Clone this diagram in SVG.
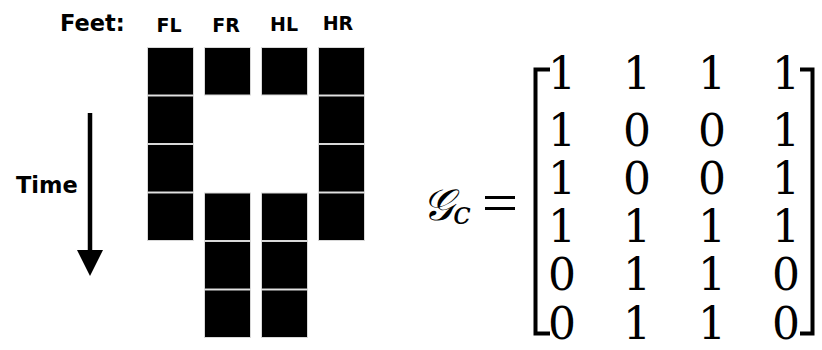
<svg xmlns="http://www.w3.org/2000/svg" width="822" height="350" viewBox="0 0 822 350">
<style>
.lbl{font-family:"DejaVu Sans",Verdana,sans-serif;font-weight:bold;fill:#000}
.cell{fill:#000;stroke:#d8d8d8;stroke-width:1}
.num{font-family:"DejaVu Serif","Liberation Serif",serif;font-size:44px;fill:#000;text-anchor:middle}
.br{fill:none;stroke:#000;stroke-width:4;stroke-linecap:butt}
</style>
<defs>
<marker id="ah" markerWidth="26" markerHeight="26" refX="0" refY="13" orient="auto" markerUnits="userSpaceOnUse" viewBox="0 0 26 26">
<path d="M0,0 L26,13 L0,26 Z" fill="#000"/>
</marker>
</defs>
<rect width="822" height="350" fill="#fff"/>
<g id="labels">
<text class="lbl" x="60" y="31" font-size="22.5">Feet:</text>
<text class="lbl" x="169" y="32" font-size="19" text-anchor="middle">FL</text>
<text class="lbl" x="226" y="32" font-size="19" text-anchor="middle">FR</text>
<text class="lbl" x="284" y="31" font-size="19" text-anchor="middle">HL</text>
<text class="lbl" x="338" y="30" font-size="19" text-anchor="middle">HR</text>
<text class="lbl" x="16" y="193" font-size="22.5">Time</text>
</g>
<g id="connectors">
<line x1="90" y1="113" x2="90" y2="250" stroke="#000" stroke-width="4.5" marker-end="url(#ah)"/>
</g>
<g id="FL">
<rect class="cell" x="147.5" y="47.5" width="46" height="47.5"/>
<rect class="cell" x="147.5" y="96" width="46" height="47.5"/>
<rect class="cell" x="147.5" y="144.5" width="46" height="47.5"/>
<rect class="cell" x="147.5" y="193" width="46" height="47.5"/>
</g>
<g id="FR">
<rect class="cell" x="204.5" y="47.5" width="46" height="47.5"/>
<rect class="cell" x="204.5" y="193" width="46" height="47.5"/>
<rect class="cell" x="204.5" y="241.5" width="46" height="47.5"/>
<rect class="cell" x="204.5" y="290" width="46" height="47.5"/>
</g>
<g id="HL">
<rect class="cell" x="261.5" y="47.5" width="46" height="47.5"/>
<rect class="cell" x="261.5" y="193" width="46" height="47.5"/>
<rect class="cell" x="261.5" y="241.5" width="46" height="47.5"/>
<rect class="cell" x="261.5" y="290" width="46" height="47.5"/>
</g>
<g id="HR">
<rect class="cell" x="318.5" y="47.5" width="46" height="47.5"/>
<rect class="cell" x="318.5" y="96" width="46" height="47.5"/>
<rect class="cell" x="318.5" y="144.5" width="46" height="47.5"/>
<rect class="cell" x="318.5" y="193" width="46" height="47.5"/>
</g>
<g id="equation">
<text x="422" y="220" font-family="'DejaVu Serif','DejaVu Sans','Noto Sans',serif" font-size="44" font-style="italic">𝒢<tspan font-family="'DejaVu Serif',serif" font-style="italic" font-size="32" dy="4">c</tspan></text>
<rect x="485" y="196" width="30" height="3"/>
<rect x="485" y="207" width="30" height="3"/>
<path class="br" d="M550,69.5 H535.5 V333.5 H550"/>
<path class="br" d="M800,69.5 H812.5 V333.5 H800"/>
<g class="num">
<text x="562" y="89">1</text><text x="637" y="89">1</text><text x="712" y="89">1</text><text x="786" y="89">1</text>
<text x="562" y="146">1</text><text x="637" y="146">0</text><text x="712" y="146">0</text><text x="786" y="146">1</text>
<text x="562" y="194">1</text><text x="637" y="194">0</text><text x="712" y="194">0</text><text x="786" y="194">1</text>
<text x="562" y="242">1</text><text x="637" y="242">1</text><text x="712" y="242">1</text><text x="786" y="242">1</text>
<text x="562" y="290">0</text><text x="637" y="290">1</text><text x="712" y="290">1</text><text x="786" y="290">0</text>
<text x="562" y="339">0</text><text x="637" y="339">1</text><text x="712" y="339">1</text><text x="786" y="339">0</text>
</g>
</g>
</svg>
